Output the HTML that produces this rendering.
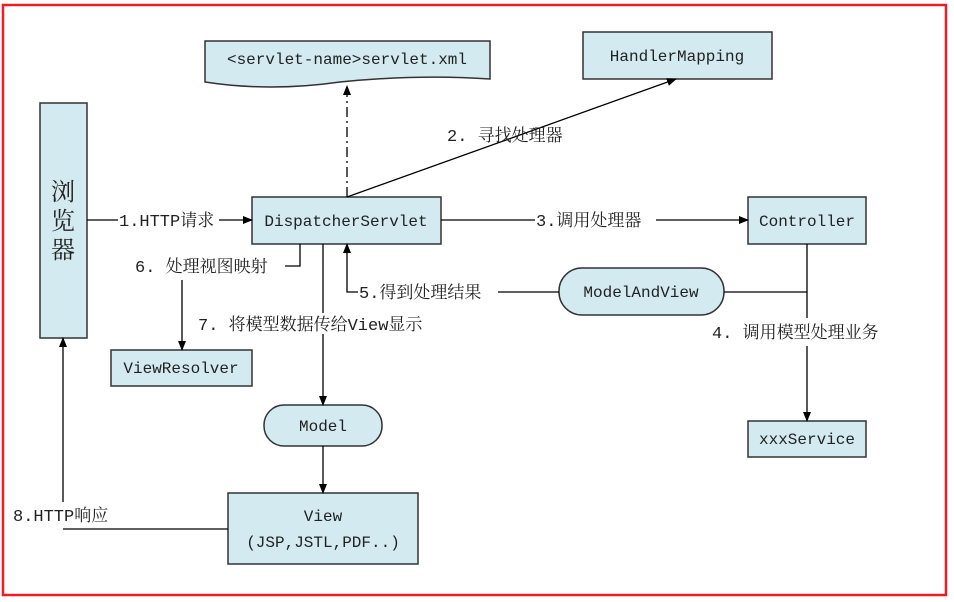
<!DOCTYPE html>
<html><head><meta charset="utf-8"><style>
html,body{margin:0;padding:0;background:#fff;}
svg{display:block}
text{font-family:"Liberation Mono","Noto Serif CJK SC",monospace;font-size:16px;fill:#222;}
.l{font-size:17px;}
.b{font-size:24px;}
</style></head><body>
<svg width="954" height="602" viewBox="0 0 954 602" xmlns="http://www.w3.org/2000/svg">
<defs><marker id="a" markerWidth="10" markerHeight="10" refX="9" refY="5" orient="auto" markerUnits="userSpaceOnUse"><path d="M0,1 L10,5 L0,9 Z" fill="#000"/></marker></defs>
<rect x="3" y="5" width="943" height="590" fill="none" stroke="#ee1c25" stroke-width="2.5"/>
<g fill="#d3eaf0" stroke="#333" stroke-width="1.5">
<rect x="40" y="103" width="47" height="235"/>
<path d="M205,41 L490,41 L490,79 Q420,74 340,82 Q270,92 205,82 Z"/>
<rect x="583" y="32" width="189" height="47"/>
<rect x="252" y="197" width="189" height="47"/>
<rect x="748" y="197" width="118" height="47"/>
<rect x="559" y="268" width="165" height="47" rx="23"/>
<rect x="748" y="421" width="118" height="36"/>
<rect x="111" y="350" width="141" height="36"/>
<rect x="264" y="405" width="118" height="41" rx="20"/>
<rect x="228" y="493" width="190" height="71"/>
</g>
<g stroke="#000" stroke-width="1.3" fill="none">
<line x1="87" y1="220" x2="118" y2="220"/><line x1="219" y1="220" x2="252" y2="220" marker-end="url(#a)"/>
<line x1="347" y1="197" x2="347" y2="86" stroke-dasharray="10,4,2,4" marker-end="url(#a)"/>
<line x1="347" y1="197" x2="676" y2="79" marker-end="url(#a)"/>
<line x1="441" y1="220" x2="535" y2="220"/><line x1="656" y1="220" x2="748" y2="220" marker-end="url(#a)"/>
<line x1="807" y1="244" x2="807" y2="318"/><line x1="807" y1="346" x2="807" y2="421" marker-end="url(#a)"/>
<line x1="724" y1="292" x2="807" y2="292"/>
<line x1="559" y1="292" x2="498" y2="292"/>
<polyline points="358,292 347,292 347,244" marker-end="url(#a)"/>
<polyline points="300,244 300,266 285,266"/>
<line x1="182" y1="280" x2="182" y2="350" marker-end="url(#a)"/>
<line x1="323" y1="244" x2="323" y2="313"/><line x1="323" y1="334" x2="323" y2="405" marker-end="url(#a)"/>
<line x1="323" y1="446" x2="323" y2="493" marker-end="url(#a)"/>
<line x1="228" y1="529" x2="63" y2="529"/>
<line x1="63" y1="502" x2="63" y2="338" marker-end="url(#a)"/>
</g>
<g text-anchor="middle">
<text class="b" x="63" y="200">浏</text><text class="b" x="63" y="229">览</text><text class="b" x="63" y="258">器</text>
<text x="347" y="64">&lt;servlet-name&gt;servlet.xml</text>
<text x="677" y="61">HandlerMapping</text>
<text x="346" y="226">DispatcherServlet</text>
<text x="807" y="226">Controller</text>
<text x="641" y="297">ModelAndView</text>
<text x="807" y="444">xxxService</text>
<text x="181" y="373">ViewResolver</text>
<text x="323" y="431">Model</text>
<text x="323" y="521">View</text>
<text x="323" y="547">(JSP,JSTL,PDF..)</text>
</g>
<text class="l" x="119" y="226">1.HTTP请求</text>
<text class="l" x="447" y="141">2.  寻找处理器</text>
<text class="l" x="536" y="226">3.调用处理器</text>
<text class="l" x="712" y="338">4.  调用模型处理业务</text>
<text class="l" x="359" y="298">5.得到处理结果</text>
<text class="l" x="135" y="272">6.  处理视图映射</text>
<text class="l" x="198" y="330">7.  将模型数据传给View显示</text>
<text class="l" x="13" y="521">8.HTTP响应</text>
</svg>
</body></html>
